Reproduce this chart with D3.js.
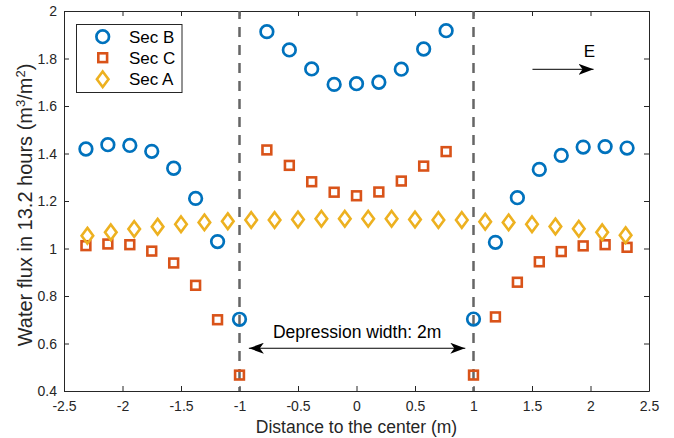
<!DOCTYPE html>
<html><head><meta charset="utf-8">
<script src="https://cdn.jsdelivr.net/npm/d3@7"></script>
<style>
html,body{margin:0;padding:0;background:#fff;}
svg{display:block;font-family:"Liberation Sans",Arial,sans-serif;}
</style></head>
<body>
<svg id="chart" width="674" height="438"></svg>
<script>
// Data
const xOuterLeft = [-2.3125, -2.125, -1.9375, -1.75, -1.5625, -1.375, -1.1875, -1.0];
const xInner = [-0.766, -0.574, -0.383, -0.191, 0, 0.191, 0.383, 0.574, 0.766];
const xOuterRight = [1.0, 1.1875, 1.375, 1.5625, 1.75, 1.9375, 2.125, 2.3125];
const xSecA = [-2.3,-2.1,-1.9,-1.7,-1.5,-1.3,-1.1,-0.9,-0.7,-0.5,-0.3,-0.1,0.1,0.3,0.5,0.7,0.9,1.1,1.3,1.5,1.7,1.9,2.1,2.3];

const secBLeft = [1.419, 1.437, 1.434, 1.409, 1.338, 1.211, 1.029, 0.702];
const secBInner = [1.913, 1.836, 1.756, 1.691, 1.694, 1.700, 1.755, 1.840, 1.917];
const secBRight = [0.703, 1.026, 1.214, 1.333, 1.392, 1.427, 1.429, 1.423];

const secCLeft = [1.012, 1.019, 1.016, 0.989, 0.939, 0.845, 0.700, 0.467];
const secCInner = [1.415, 1.350, 1.281, 1.237, 1.222, 1.238, 1.284, 1.347, 1.408];
const secCRight = [0.467, 0.712, 0.858, 0.944, 0.987, 1.011, 1.016, 1.005];

const secA = [1.054,1.068,1.082,1.092,1.102,1.110,1.115,1.120,1.120,1.122,1.125,1.125,1.125,1.125,1.122,1.120,1.120,1.113,1.110,1.102,1.093,1.083,1.068,1.056];

const xTicks = [-2.5,-2,-1.5,-1,-0.5,0,0.5,1,1.5,2,2.5];
const xTickLabels = ["-2.5","-2","-1.5","-1","-0.5","0","0.5","1","1.5","2","2.5"];
const yTicks = [0.4,0.6,0.8,1,1.2,1.4,1.6,1.8,2];
const yTickLabels = ["0.4","0.6","0.8","1","1.2","1.4","1.6","1.8","2"];
const seriesNames = ["Sec B","Sec C","Sec A"];
const boundaries = [-1, 1];

const colors = {B:"#0072BD", C:"#D95319", A:"#EDB120"};

const svg = d3.select("#chart");
const L=64, R=649, T=11, B=391;
const x = d3.scaleLinear().domain([-2.5,2.5]).range([L,R]);
const y = d3.scaleLinear().domain([0.4,2]).range([B,T]);

// axes
const ax = svg.append("g").attr("transform",`translate(0,${B})`)
  .call(d3.axisBottom(x).tickValues(xTicks).tickFormat((d,i)=>xTickLabels[i]).tickSizeInner(-5).tickSizeOuter(0).tickPadding(10.5));
const axTop = svg.append("g").attr("transform",`translate(0,${T})`)
  .call(d3.axisTop(x).tickValues(xTicks).tickFormat("").tickSizeInner(-5).tickSizeOuter(0));
const ay = svg.append("g").attr("transform",`translate(${L},0)`)
  .call(d3.axisLeft(y).tickValues(yTicks).tickFormat((d,i)=>yTickLabels[i]).tickSizeInner(-5).tickSizeOuter(0).tickPadding(7));
const ayR = svg.append("g").attr("transform",`translate(${R},0)`)
  .call(d3.axisRight(y).tickValues(yTicks).tickFormat("").tickSizeInner(-5).tickSizeOuter(0));
[ax,axTop,ay,ayR].forEach(g=>{
  g.select(".domain").attr("stroke","#262626").attr("stroke-width",1);
  g.selectAll(".tick line").attr("stroke","#262626");
  g.selectAll("text").attr("fill","#262626").style("font-size","14px").style("font-family","'Liberation Sans',Arial,sans-serif");
});
ay.selectAll("text").attr("dy","0.35em");
ax.selectAll("text").attr("dy","0.71em");

// dashed boundaries
svg.append("g").selectAll("line").data(boundaries).join("line")
  .attr("x1",d=>x(d)).attr("x2",d=>x(d)).attr("y1",y(2)).attr("y2",y(0.4))
  .attr("stroke","#666").attr("stroke-width",2.5).attr("stroke-dasharray","10,8").attr("stroke-dashoffset",2);

// data
const bPts = xOuterLeft.map((d,i)=>[d,secBLeft[i]]).concat(xInner.map((d,i)=>[d,secBInner[i]]), xOuterRight.map((d,i)=>[d,secBRight[i]]));
const cPts = xOuterLeft.map((d,i)=>[d,secCLeft[i]]).concat(xInner.map((d,i)=>[d,secCInner[i]]), xOuterRight.map((d,i)=>[d,secCRight[i]]));
const aPts = xSecA.map((d,i)=>[d,secA[i]]);

function circle(g,px,py){ g.append("circle").attr("cx",px).attr("cy",py).attr("r",6.3).attr("fill","none").attr("stroke",colors.B).attr("stroke-width",2.7); }
function square(g,px,py){ g.append("rect").attr("x",px-4.4).attr("y",py-4.4).attr("width",8.8).attr("height",8.8).attr("fill","none").attr("stroke",colors.C).attr("stroke-width",2.6); }
function diamond(g,px,py){ g.append("path").attr("d",`M${px},${py-7.8}L${px+5.8},${py}L${px},${py+7.8}L${px-5.8},${py}Z`).attr("fill","none").attr("stroke",colors.A).attr("stroke-width",2.6).attr("stroke-linejoin","miter"); }

const gm = svg.append("g");
bPts.forEach(p=>circle(gm,x(p[0]),y(p[1])));
cPts.forEach(p=>square(gm,x(p[0]),y(p[1])));
aPts.forEach(p=>diamond(gm,x(p[0]),y(p[1])));

// arrow defs
const defs = svg.append("defs");
defs.append("marker").attr("id","ah").attr("viewBox","0 0 15 11").attr("refX",15).attr("refY",5.5)
  .attr("markerWidth",15).attr("markerHeight",11).attr("markerUnits","userSpaceOnUse").attr("orient","auto-start-reverse")
  .append("path").attr("d","M0,0L15,5.5L0,11L4,5.5Z").attr("fill","#000");

// Depression width arrow
svg.append("line").attr("x1",x(-0.92)).attr("x2",x(0.93)).attr("y1",y(0.58)).attr("y2",y(0.58))
  .attr("stroke","#000").attr("stroke-width",1).attr("marker-start","url(#ah)").attr("marker-end","url(#ah)");
svg.append("text").attr("x",x(0.005)).attr("y",y(0.58)-10).attr("text-anchor","middle")
  .style("font-size","17.5px").attr("fill","#000").text("Depression width: 2m");

// E arrow
svg.append("line").attr("x1",x(1.504)).attr("x2",x(2.026)).attr("y1",y(1.7545)).attr("y2",y(1.7545))
  .attr("stroke","#000").attr("stroke-width",1).attr("marker-end","url(#ah)");
svg.append("text").attr("x",x(1.99)).attr("y",y(1.7545)-12.6).attr("text-anchor","middle")
  .style("font-size","17px").attr("fill","#000").text("E");

// axis labels
svg.append("text").attr("x",(L+R)/2).attr("y",433).attr("text-anchor","middle")
  .style("font-size","17.5px").attr("fill","#262626").text("Distance to the center (m)");
const yl = svg.append("text").attr("transform",`translate(31.5,205) rotate(-90)`).attr("text-anchor","middle")
  .style("font-size","20px").attr("fill","#262626");
yl.append("tspan").text("Water flux in 13.2 hours (m");
yl.append("tspan").attr("baseline-shift","super").style("font-size","13px").text("3");
yl.append("tspan").text("/m");
yl.append("tspan").attr("baseline-shift","super").style("font-size","13px").text("2");
yl.append("tspan").text(")");

// legend
const lg = svg.append("g");
lg.append("rect").attr("x",76.5).attr("y",24.5).attr("width",105.5).attr("height",68).attr("fill","#fff").attr("stroke","#262626").attr("stroke-width",1);
const rows = [36.7, 57.7, 79.3];
circle(lg,102.7,rows[0]);
square(lg,102.7,rows[1]);
diamond(lg,102.7,rows[2]);
seriesNames.forEach((n,i)=>{
  lg.append("text").attr("x",129).attr("y",rows[i]).attr("dy","0.35em").style("font-size","17px").attr("fill","#000").text(n);
});
</script>
</body></html>
